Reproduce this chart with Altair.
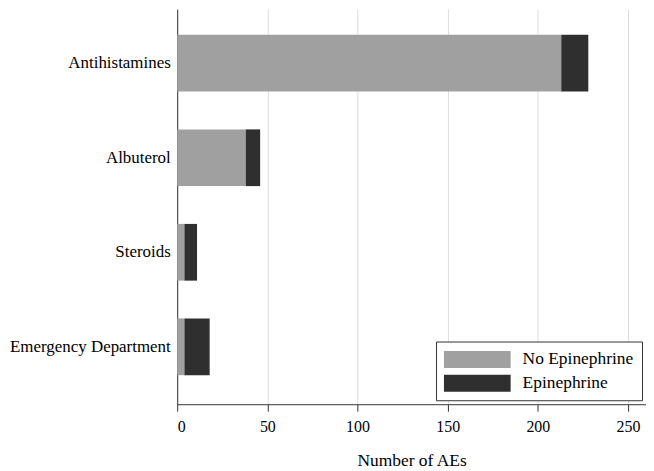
import altair as alt
import pandas as pd

categories = ["Antihistamines", "Albuterol", "Steroids", "Emergency Department"]
no_epi = [213, 38, 4, 4]
epi = [15, 8, 7, 14]
groups = ["No Epinephrine", "Epinephrine"]
tick_values = [0, 50, 100, 150, 200, 250]

rows = []
for c, a, b in zip(categories, no_epi, epi):
    rows.append({"category": c, "group": groups[0], "value": a, "ord": 0})
    rows.append({"category": c, "group": groups[1], "value": b, "ord": 1})
df = pd.DataFrame(rows)

FONT = "Liberation Serif"

chart = alt.Chart(df).mark_bar().encode(
    x=alt.X(
        "value:Q",
        stack="zero",
        scale=alt.Scale(domain=[0, 260], nice=False),
        axis=alt.Axis(
            values=tick_values,
            title="Number of AEs",
            grid=True,
            gridColor="#dcdcdc",
            gridWidth=1,
            domainColor="#333333",
            tickColor="#333333",
            tickSize=7,
            labelPadding=7,
            labelFont=FONT,
            labelFontSize=16,
            labelColor="black",
            titleFont=FONT,
            titleFontSize=17.5,
            titleFontWeight="normal",
            titleColor="black",
            titlePadding=18,
        ),
    ),
    y=alt.Y(
        "category:N",
        sort=categories,
        scale=alt.Scale(paddingInner=0.4, paddingOuter=0.29, align=0.47),
        axis=alt.Axis(
            title=None,
            ticks=False,
            labelPadding=7,
            labelFont=FONT,
            labelFontSize=17,
            labelColor="black",
            domainColor="#333333",
            grid=False,
        ),
    ),
    color=alt.Color(
        "group:N",
        scale=alt.Scale(domain=groups, range=["#a0a0a0", "#2f2f2f"]),
        legend=alt.Legend(
            title=None,
            orient="none",
            legendX=260,
            legendY=334,
            symbolType="M-1,-0.85H5.7V0.85H-1Z",
            symbolSize=400,
            symbolStrokeWidth=0,
            symbolOpacity=1,
            labelOffset=59,
            labelFont=FONT,
            labelFontSize=17.5,
            labelColor="black",
            padding=8,
            rowPadding=5,
            strokeColor="#333333",
            fillColor="white",
        ),
    ),
    order=alt.Order("ord:Q"),
).properties(
    width=471,
    height=397,
    padding={"left": 170, "top": 0, "right": 0, "bottom": 66},
    autosize="none",
).configure_view(stroke=None)

chart.save("out.html", embed_options={"renderer": "svg", "actions": False})
